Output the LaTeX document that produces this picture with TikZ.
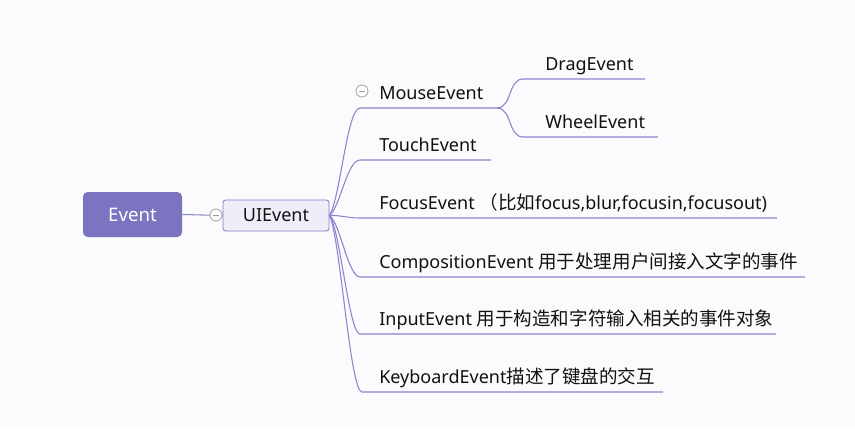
\documentclass[tikz,border=0pt]{standalone}
\usepackage{fontspec}
\setmainfont{Noto Sans}
\newfontfamily\cjk[Scale=1.03]{Noto Sans CJK SC}
\definecolor{bg}{HTML}{FBFBFD}
\definecolor{lnc}{HTML}{8A84CC}
\definecolor{evfill}{HTML}{7B74C1}
\definecolor{uifill}{HTML}{EFEEF8}
\definecolor{uiline}{HTML}{8079C4}
\definecolor{txt}{HTML}{111111}
\begin{document}
\begin{tikzpicture}[x=0.75pt,y=-0.75pt,
  every node/.style={font=\fontsize{13.5}{16}\selectfont, text=txt},
  lbl/.style={anchor=base west, inner sep=0pt},
  conn/.style={draw=lnc, line width=0.8pt},
  tog/.style={circle, draw=gray!75, fill=white, line width=0.6pt, minimum size=9pt, inner sep=0pt,
    path picture={\draw[gray!75, line width=0.6pt] ([xshift=-2.6pt]path picture bounding box.center) -- ([xshift=2.6pt]path picture bounding box.center);}}]
\fill[bg] (0,0) rectangle (855,428);
\useasboundingbox (0,0) rectangle (855,428);
% root and UIEvent
\node[fill=evfill, rounded corners=3.5pt, minimum width=74.25pt, minimum height=33.75pt, text=white, font=\fontsize{14}{16}\selectfont] (ev) at (132.5,214.5) {Event};
\node[fill=uifill, draw=uiline, line width=0.6pt, rounded corners=2pt, minimum width=79.5pt, minimum height=23.25pt] (ui) at (276,215.5) {UIEvent};
\draw[conn] (ev.east) -- (ui.west);
\node[tog] (t1) at (216,215) {};
% underline coordinates
\coordinate (mouseA) at (360,108); \coordinate (mouseB) at (497,108);
\coordinate (touchA) at (360,160); \coordinate (touchB) at (491,160);
\coordinate (focusA) at (360,218); \coordinate (focusB) at (777,218);
\coordinate (compA) at (360,277);  \coordinate (compB) at (805,277);
\coordinate (inputA) at (360,334); \coordinate (inputB) at (776,334);
\coordinate (keyA) at (362,392);   \coordinate (keyB) at (663,392);
\coordinate (dragA) at (523,79);   \coordinate (dragB) at (645,79);
\coordinate (wheelA) at (523,137); \coordinate (wheelB) at (658,137);
% connectors
\draw[conn] (ui.east) .. controls (340,200) and (347,108) .. (mouseA) -- (mouseB);
\draw[conn] (ui.east) .. controls (340,208) and (347,160) .. (touchA) -- (touchB);
\draw[conn] (ui.east) .. controls (340,215) and (347,218) .. (focusA) -- (focusB);
\draw[conn] (ui.east) .. controls (340,222) and (348,277) .. (compA) -- (compB);
\draw[conn] (ui.east) .. controls (340,228) and (349,334) .. (inputA) -- (inputB);
\draw[conn] (ui.east) .. controls (340,235) and (350,392) .. (keyA) -- (keyB);
\draw[conn] (mouseB) .. controls (512,108) and (508,79) .. (dragA) -- (dragB);
\draw[conn] (mouseB) .. controls (512,108) and (508,137) .. (wheelA) -- (wheelB);
% labels
\node[tog] (t2) at (362,91) {};
\node[lbl] (mouse) at (379,99) {MouseEvent};
\node[lbl] (touch) at (379,151) {TouchEvent};
\node[lbl] (focus) at (379,209) {FocusEvent {\cjk（比如}focus,blur,focusin,focusout)};
\node[lbl] (comp) at (379,268) {CompositionEvent {\cjk 用于处理用户间接入文字的事件}};
\node[lbl] (input) at (379,325) {InputEvent {\cjk 用于构造和字符输入相关的事件对象}};
\node[lbl] (key) at (379,383) {KeyboardEvent{\cjk 描述了键盘的交互}};
\node[lbl] (drag) at (545,70) {DragEvent};
\node[lbl] (wheel) at (545,128) {WheelEvent};
\end{tikzpicture}
\end{document}
